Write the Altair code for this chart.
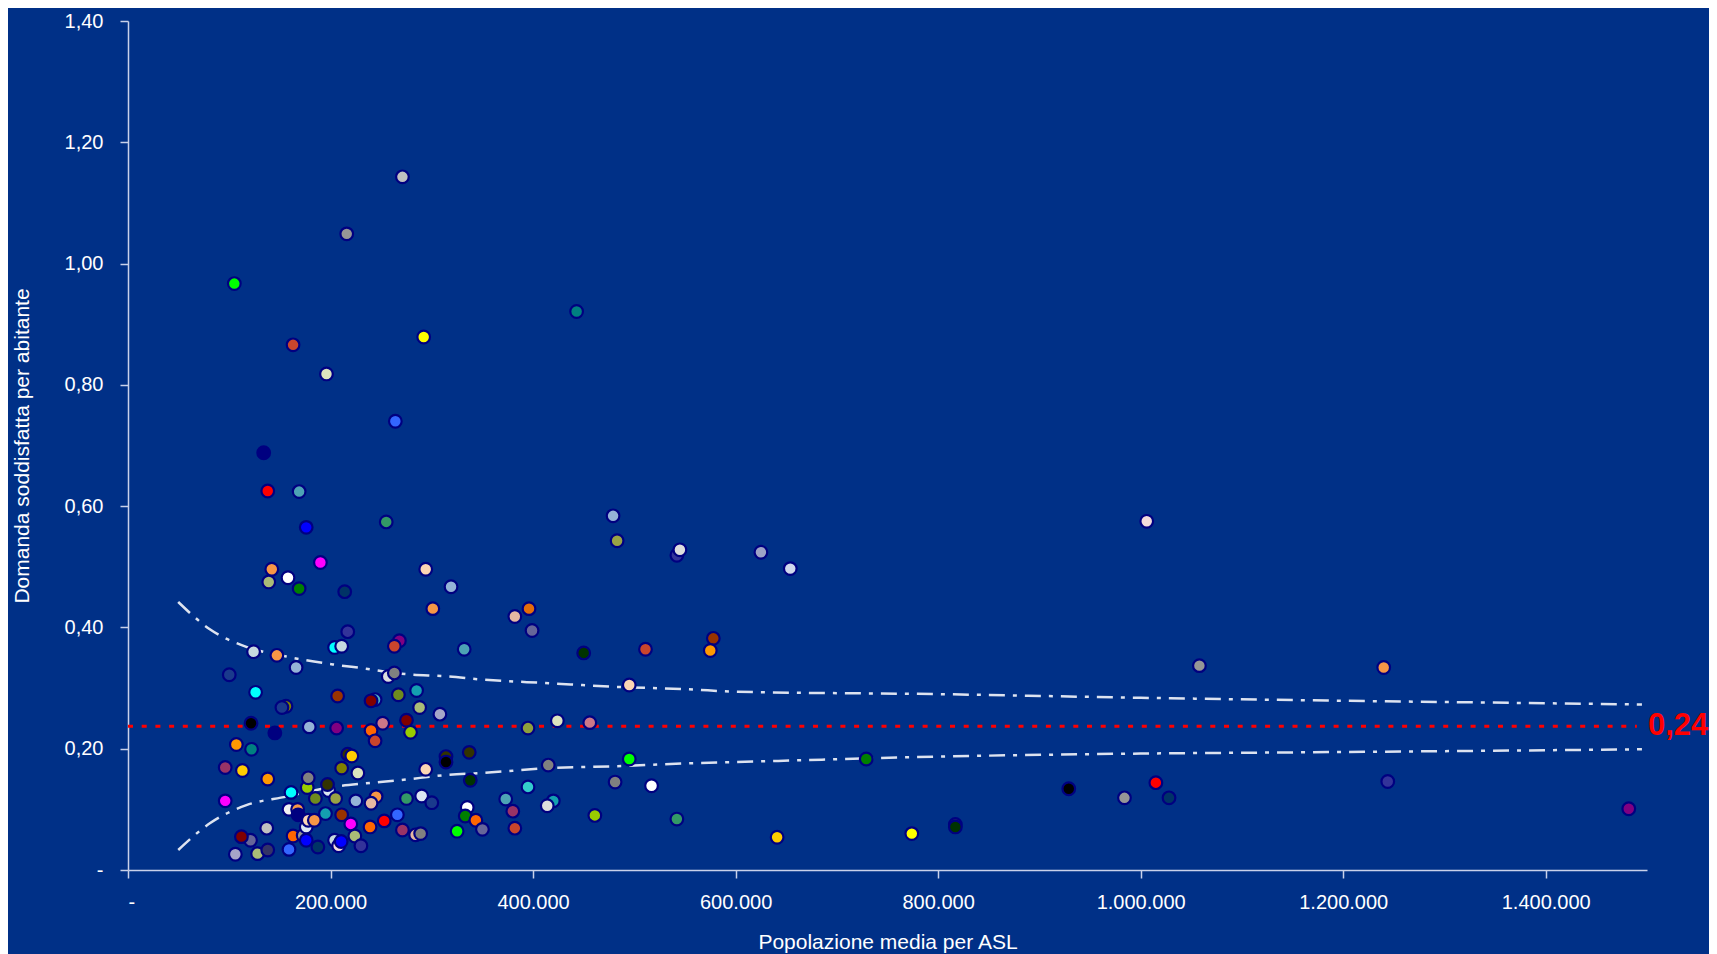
import altair as alt
import pandas as pd

# ---- point data (population in thousands, demand per inhabitant, colour) ----
pop_k = [271, 216, 105, 443, 292, 163, 196, 264, 134, 138,
         169, 176, 255, 190, 142, 294, 139, 158, 169, 214,
         319, 301, 217, 204, 211, 268, 263, 332, 124, 147,
         166, 100, 257, 263, 126, 207, 244, 240, 267, 285,
         288, 156, 152, 479, 483, 542, 545, 625, 654, 1006,
         396, 382, 399, 450, 511, 578, 575, 1058, 495, 395,
         424, 456, 415, 495, 729, 395, 481, 517, 373, 420,
         414, 380, 382, 461, 542, 641, 774, 817, 817, 929,
         984, 1015, 1028, 1240, 1244, 1482, 121.5, 145, 107, 122,
         96, 113, 138, 161, 96, 137, 121, 112, 106, 128,
         138, 159, 163, 159, 167.5, 168, 177, 178, 185, 198,
         197, 205, 195, 211, 225, 245, 240, 253, 266, 239,
         220, 271, 284, 289, 275, 290, 300, 294, 173, 176,
         176, 178, 184, 187.5, 204, 208, 210.5, 224, 230, 179,
         206, 240, 244, 251.5, 275, 279, 308, 217, 221, 211,
         227, 314, 314, 337, 338, 335, 333, 343.5, 350, 325]

domanda = [1.143, 1.049, 0.967, 0.921, 0.879, 0.866, 0.818, 0.740, 0.688, 0.625,
           0.624, 0.565, 0.574, 0.507, 0.496, 0.496, 0.475, 0.482, 0.464, 0.459,
           0.467, 0.431, 0.393, 0.367, 0.369, 0.378, 0.369, 0.364, 0.360, 0.354,
           0.334, 0.322, 0.319, 0.325, 0.293, 0.287, 0.281, 0.279, 0.289, 0.296,
           0.268, 0.270, 0.268, 0.584, 0.543, 0.519, 0.528, 0.524, 0.497, 0.575,
           0.431, 0.418, 0.395, 0.358, 0.364, 0.382, 0.362, 0.337, 0.305, 0.234,
           0.246, 0.243, 0.173, 0.183, 0.183, 0.137, 0.145, 0.139, 0.117, 0.114,
           0.106, 0.097, 0.069, 0.090, 0.084, 0.054, 0.060, 0.075, 0.071, 0.134,
           0.119, 0.144, 0.119, 0.334, 0.146, 0.101, 0.242, 0.226, 0.207, 0.199,
           0.169, 0.164, 0.150, 0.128, 0.114, 0.069, 0.049, 0.055, 0.026, 0.027,
           0.033, 0.034, 0.056, 0.100, 0.100, 0.091, 0.136, 0.152, 0.118, 0.131,
           0.141, 0.118, 0.093, 0.091, 0.114, 0.121, 0.110, 0.081, 0.091, 0.071,
           0.076, 0.066, 0.058, 0.060, 0.118, 0.122, 0.111, 0.166, 0.057, 0.071,
           0.049, 0.082, 0.082, 0.038, 0.049, 0.040, 0.047, 0.056, 0.040, 0.236,
           0.234, 0.230, 0.213, 0.242, 0.247, 0.227, 0.257, 0.191, 0.188, 0.168,
           0.160, 0.187, 0.178, 0.194, 0.148, 0.103, 0.089, 0.082, 0.067, 0.064]

colori = ["#C0C0C0", "#969696", "#00FF00", "#008080", "#FFFF00", "#C9452C", "#DCE3BE", "#3366FF", "#000080", "#FF0000",
          "#4DA3B5", "#0000FF", "#339966", "#FF00FF", "#F79646", "#FCD5B4", "#AABB77", "#FFFFFF", "#008000", "#003366",
          "#95B3D7", "#F79646", "#333399", "#00FFFF", "#C6D9DF", "#800080", "#C9452C", "#4DA3B5", "#C6D9DF", "#F79646",
          "#95B3D7", "#1A3A8C", "#DDDDDD", "#808080", "#00FFFF", "#993300", "#4BACC6", "#800000", "#6E8B1E", "#14A0B0",
          "#AABB77", "#808000", "#1A3A8C", "#95B3D7", "#99A345", "#333399", "#DDDDDD", "#9DA3C6", "#D0D8EC", "#F2DCDB",
          "#E46C0A", "#E6B8A2", "#666699", "#003300", "#C9452C", "#993300", "#FF9900", "#969696", "#FCD5B4", "#8EA03C",
          "#DCE3BE", "#CC7788", "#808080", "#00FF00", "#008000", "#33CCCC", "#808080", "#FFFFFF", "#4DA3B5", "#14A0B0",
          "#DDDDDD", "#993366", "#C9452C", "#99CC00", "#339966", "#FFCC00", "#FFFF00", "#333366", "#003300", "#000000",
          "#969696", "#FF0000", "#003366", "#F79646", "#333399", "#800080", "#000000", "#000080", "#FF9900", "#008080",
          "#993366", "#FFCC00", "#FF9900", "#00FFFF", "#FF00FF", "#C0C0C0", "#666699", "#800000", "#A6A6C8", "#AABB77",
          "#333366", "#3366FF", "#FF6600", "#F2F2F2", "#F79646", "#000080", "#99CC00", "#808080", "#6E8B1E", "#DCE6F2",
          "#333300", "#99A345", "#14A0B0", "#993300", "#95B3D7", "#F79646", "#E6B8A2", "#FF0000", "#3366FF", "#FF6600",
          "#FF00FF", "#993366", "#E6B8A2", "#808080", "#339966", "#DCE6F2", "#1A3A8C", "#FCD5B4", "#969696", "#DCE6F2",
          "#0000FF", "#FCD5B4", "#F79646", "#003366", "#C6D9DF", "#F2DCDB", "#0000FF", "#AABB77", "#333399", "#95B3D7",
          "#800080", "#FF6600", "#C9452C", "#CC7788", "#800000", "#99CC00", "#A6A6C8", "#333300", "#FFCC00", "#808000",
          "#DCE3BE", "#333300", "#000000", "#333300", "#003300", "#FFFFFF", "#008000", "#FF6600", "#666699", "#00FF00"]

# ---- funnel control limits ----
band_pop_k = [49.6, 80.8, 116.9, 156.4, 202.3, 235, 268, 317, 350, 415.7,
              481.5, 553.7, 600, 800, 1000, 1158, 1300, 1495]
band_upper = [0.442, 0.397, 0.368, 0.352, 0.339, 0.332, 0.324, 0.319, 0.314, 0.308,
              0.302, 0.298, 0.294, 0.290, 0.284, 0.280, 0.277, 0.273]
band_lower = [0.033, 0.077, 0.107, 0.121, 0.137, 0.143, 0.148, 0.157, 0.160, 0.168,
              0.171, 0.176, 0.178, 0.187, 0.192, 0.194, 0.196, 0.199]

media = 0.237
media_label = "0,24"
media_start = 0
media_end = 1490000

x_ticks = [0, 200000, 400000, 600000, 800000, 1000000, 1200000, 1400000]
y_ticks = [0, 0.2, 0.4, 0.6, 0.8, 1.0, 1.2, 1.4]

FONT = "Liberation Sans"

pts = pd.DataFrame({
    "pop": [p * 1000 for p in pop_k],
    "dom": domanda,
    "col": colori,
    "ord": list(range(len(pop_k))),
})

bands = pd.DataFrame({
    "pop": [p * 1000 for p in band_pop_k] * 2,
    "dom": band_upper + band_lower,
    "band": ["sup"] * len(band_pop_k) + ["inf"] * len(band_pop_k),
})

rule_df = pd.DataFrame({"pop": [media_start], "pop2": [media_end], "dom": [media]})
text_df = pd.DataFrame({"pop": [1500000], "dom": [media], "label": [media_label]})

x_enc = alt.X(
    "pop:Q",
    scale=alt.Scale(domain=[0, 1500000], nice=False, zero=True),
    axis=alt.Axis(
        values=x_ticks,
        labelExpr="datum.value == 0 ? '-' : replace(format(datum.value, ','), regexp(',', 'g'), '.')",
        title="Popolazione media per ASL",
        grid=False,
        tickSize=8,
        labelPadding=24,
        labelBaseline="middle",
        titleX=759.5,
        titleY=72,
        titleBaseline="middle",
        titleAlign="center",
    ),
)
y_enc = alt.Y(
    "dom:Q",
    scale=alt.Scale(domain=[0, 1.4], nice=False, zero=True),
    axis=alt.Axis(
        values=y_ticks,
        labelExpr="datum.value == 0 ? '-' : replace(format(datum.value, '.2f'), '.', ',')",
        title="Domanda soddisfatta per abitante",
        grid=False,
        tickSize=8,
        labelPadding=17,
        titleAngle=270,
        titleX=-106,
        titleY=424.5,
        titleBaseline="middle",
        titleAlign="center",
    ),
)

bands_layer = alt.Chart(bands).mark_line(
    color="#DDE3F0", strokeWidth=2.5, strokeDash=[16, 8, 4, 8], interpolate="monotone"
).encode(x=x_enc, y=y_enc, detail="band:N", order="pop:Q")

rule_layer = alt.Chart(rule_df).mark_rule(
    color="#FF0000", strokeWidth=3, strokeDash=[5, 8.7]
).encode(x=x_enc, x2="pop2:Q", y=y_enc)

points_layer = alt.Chart(pts).mark_circle(
    size=160, opacity=1, stroke="#000080", strokeWidth=2.2
).encode(
    x=x_enc, y=y_enc,
    color=alt.Color("col:N", scale=None),
    order=alt.Order("ord:Q"),
)

text_layer = alt.Chart(text_df).mark_text(
    align="left", baseline="middle", dx=1, fontSize=31, fontWeight="bold",
    color="#FF0000", font=FONT
).encode(x=x_enc, y=y_enc, text="label:N")

chart = alt.layer(bands_layer, rule_layer, points_layer, text_layer).properties(
    width=1519,
    height=849,
    autosize=alt.AutoSizeParams(type="none"),
    padding={"left": 120, "top": 13, "right": 62, "bottom": 84},
    background="#003087",
).configure_view(
    stroke=None
).configure_axis(
    labelFont=FONT,
    titleFont=FONT,
    labelFontSize=20,
    titleFontSize=21,
    titleFontWeight="normal",
    labelColor="#FFFFFF",
    titleColor="#FFFFFF",
    domainColor="#C9D1EA",
    tickColor="#C9D1EA",
    domainWidth=1.5,
    tickWidth=1.5,
)

chart.save("out.html", embed_options={"renderer": "svg", "actions": False})
